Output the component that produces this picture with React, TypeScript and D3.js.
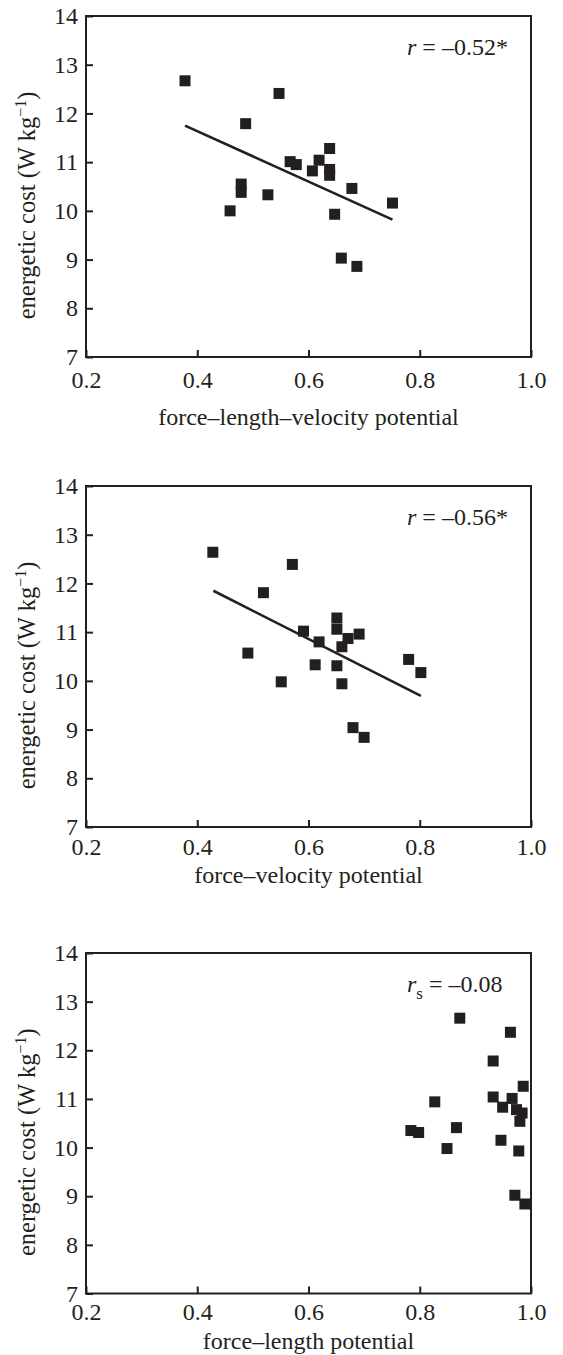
import React, { useRef, useEffect } from 'react';
import * as d3 from 'd3';

// panel A: force-length-velocity potential
const flvX = [0.378, 0.547, 0.487, 0.638, 0.567, 0.578, 0.619, 0.607, 0.638, 0.638, 0.479, 0.479, 0.527, 0.459, 0.678, 0.751, 0.647, 0.659, 0.687];
const flvY = [12.67, 12.41, 11.79, 11.28, 11.01, 10.95, 11.04, 10.82, 10.85, 10.73, 10.55, 10.38, 10.33, 10.0, 10.46, 10.16, 9.93, 9.03, 8.86];
const flvFitX = [0.378, 0.751];
const flvFitY = [11.75, 9.82];

// panel B: force-velocity potential
const fvX = [0.428, 0.571, 0.519, 0.651, 0.651, 0.591, 0.691, 0.671, 0.619, 0.66, 0.491, 0.612, 0.651, 0.551, 0.66, 0.78, 0.802, 0.68, 0.7];
const fvY = [12.64, 12.39, 11.81, 11.29, 11.06, 11.02, 10.96, 10.87, 10.8, 10.7, 10.57, 10.33, 10.31, 9.98, 9.94, 10.44, 10.17, 9.04, 8.84];
const fvFitX = [0.429, 0.802];
const fvFitY = [11.85, 9.69];

// panel C: force-length potential (no fit line)
const flX = [0.872, 0.963, 0.932, 0.986, 0.932, 0.966, 0.949, 0.974, 0.984, 0.98, 0.827, 0.784, 0.798, 0.866, 0.849, 0.946, 0.978, 0.971, 0.989];
const flY = [12.66, 12.37, 11.78, 11.26, 11.04, 11.01, 10.83, 10.78, 10.71, 10.54, 10.94, 10.35, 10.31, 10.41, 9.98, 10.15, 9.93, 9.02, 8.84];

const xTicks = [0.2, 0.4, 0.6, 0.8, 1.0];
const yTicks = [7, 8, 9, 10, 11, 12, 13, 14];

const INK = '#231f20';
const FONT = '"Liberation Serif", "Times New Roman", serif';

const panels = [
  { xs: flvX, ys: flvY, fitX: flvFitX, fitY: flvFitY, title: 'force–length–velocity potential', stat: 'r', sub: '', value: ' = –0.52*', top: 16, bottom: 357, tickPad: 14, titleY: 425 },
  { xs: fvX, ys: fvY, fitX: fvFitX, fitY: fvFitY, title: 'force–velocity potential', stat: 'r', sub: '', value: ' = –0.56*', top: 486, bottom: 827, tickPad: 11, titleY: 883 },
  { xs: flX, ys: flY, fitX: null, fitY: null, title: 'force–length potential', stat: 'r', sub: 's', value: ' = –0.08', top: 953, bottom: 1293.5, tickPad: 9.5, titleY: 1349 },
];

const App = () => {
  const svgRef = useRef<SVGSVGElement>(null);

  useEffect(() => {
    const svg = d3.select(svgRef.current);
    svg.selectAll('*').remove();

    const left = 86;
    const right = 531;
    const x = d3.scaleLinear().domain([0.2, 1.0]).range([left, right]);

    panels.forEach(p => {
      const y = d3.scaleLinear().domain([7, 14]).range([p.bottom, p.top]);
      const g = svg.append('g').style('font-family', FONT).style('fill', INK);

      // bottom axis, ticks pointing inward
      const xAxis = g.append('g')
        .attr('transform', `translate(0,${p.bottom})`)
        .call(d3.axisBottom(x).tickValues(xTicks).tickSize(-7).tickPadding(p.tickPad).tickFormat(d3.format('.1f')));
      xAxis.select('.domain').remove();
      xAxis.selectAll('line').attr('stroke', INK).attr('stroke-width', 2);
      xAxis.selectAll('text').attr('fill', INK).style('font-size', '24px').style('font-family', FONT);

      // left axis
      const yAxis = g.append('g')
        .attr('transform', `translate(${left},0)`)
        .call(d3.axisLeft(y).tickValues(yTicks).tickSize(-7).tickPadding(8).tickFormat(d3.format('d')));
      yAxis.select('.domain').remove();
      yAxis.selectAll('line').attr('stroke', INK).attr('stroke-width', 2);
      yAxis.selectAll('text').attr('fill', INK).style('font-size', '24px').style('font-family', FONT);

      // frame
      g.append('rect')
        .attr('x', left).attr('y', p.top)
        .attr('width', right - left).attr('height', p.bottom - p.top)
        .attr('fill', 'none').attr('stroke', INK).attr('stroke-width', 2);

      // regression line
      if (p.fitX) {
        const line = d3.line<number>().x(d => x(d)).y((_, i) => y(p.fitY[i]));
        g.append('path')
          .attr('d', line(p.fitX))
          .attr('fill', 'none').attr('stroke', INK).attr('stroke-width', 2.6);
      }

      // points
      const s = 11;
      g.selectAll('.pt')
        .data(p.xs)
        .join('rect')
        .attr('class', 'pt')
        .attr('x', d => x(d) - s / 2)
        .attr('y', (_, i) => y(p.ys[i]) - s / 2)
        .attr('width', s).attr('height', s)
        .attr('fill', INK);

      // correlation text
      const st = g.append('text')
        .attr('x', 407).attr('y', p.top + 39)
        .style('font-size', '24px');
      st.append('tspan').style('font-style', 'italic').text(p.stat);
      if (p.sub) {
        st.append('tspan').attr('dy', 7).style('font-size', '17px').text(p.sub);
        st.append('tspan').attr('dy', -7).text(p.value);
      } else {
        st.append('tspan').text(p.value);
      }

      // x title
      g.append('text')
        .attr('x', (left + right) / 2).attr('y', p.titleY)
        .attr('text-anchor', 'middle')
        .style('font-size', '24px')
        .text(p.title);

      // y title
      const cy = (p.top + p.bottom) / 2 + 19;
      const yt = g.append('text')
        .attr('transform', `translate(35,${cy}) rotate(-90)`)
        .attr('text-anchor', 'middle')
        .style('font-size', '24.5px');
      yt.append('tspan').text('energetic cost (W kg');
      yt.append('tspan').attr('dy', -9).style('font-size', '16px').text('−1');
      yt.append('tspan').attr('dy', 9).text(')');
    });
  }, []);

  return (
    <div style={{ position: 'absolute', left: 0, top: 0, background: '#fff' }}>
      <svg ref={svgRef} width={563} height={1355}></svg>
    </div>
  );
};

export default App;
